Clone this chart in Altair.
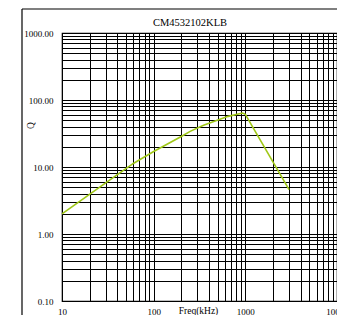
import altair as alt
import pandas as pd

# data
freq_khz = [10, 30, 60, 100, 200, 250, 350, 650, 930, 1000, 3000]
q_values = [2.0, 5.8, 11.3, 17.0, 28.5, 34.0, 42.0, 57.0, 64.0, 61.0, 4.6]

x_decades = [10, 100, 1000, 10000]
y_decades = [0.1, 1, 10, 100, 1000]
x_ticks = [m * d for d in [10, 100, 1000] for m in range(1, 10)] + [10000]
y_ticks = [round(m * d, 4) for d in [0.1, 1, 10, 100] for m in range(1, 10)] + [1000]

title_text = "CM4532102KLB"
x_title = "Freq(kHz)"
y_title = "Q"

df = pd.DataFrame({"f": freq_khz, "q": q_values})

FONT = "Liberation Serif"
W, H = 275, 268

line = alt.Chart(df).mark_line(color="#a0c818", strokeWidth=1.6).encode(
    x=alt.X(
        "f:Q",
        scale=alt.Scale(type="log", domain=[10, 10000], nice=False),
        axis=alt.Axis(
            values=x_ticks,
            labelExpr="indexof(%s, datum.value) >= 0 ? format(datum.value, 'd') : ''" % x_decades,
            title=x_title,
            titleX=136,
            titleY=9,
            titleBaseline="middle",
            titleFontSize=9.5,
            titleFontWeight="normal",
            titleFont=FONT,
            labelFont=FONT,
            labelFontSize=9,
            labelPadding=6,
            labelFlush=False,
            labelOverlap=False,
            ticks=False,
            domain=False,
            grid=True,
            gridColor="#000000",
            gridOpacity=1,
            gridWidth=1,
        ),
    ),
    y=alt.Y(
        "q:Q",
        scale=alt.Scale(type="log", domain=[0.1, 1000], nice=False),
        axis=alt.Axis(
            values=y_ticks,
            labelExpr="indexof(%s, datum.value) >= 0 ? format(datum.value, '.2f') : ''" % y_decades,
            title=y_title,
            titleX=-32,
            titleY=92,
            titleAngle=-90,
            titleBaseline="middle",
            titleFontSize=9.5,
            titleFontWeight="normal",
            titleFont=FONT,
            labelFont=FONT,
            labelFontSize=9,
            labelPadding=9,
            labelFlush=False,
            labelOverlap=False,
            ticks=False,
            domain=False,
            grid=True,
            gridColor="#000000",
            gridOpacity=1,
            gridWidth=1,
        ),
    ),
)

one = pd.DataFrame({"a": [0]})

frame_left = alt.Chart(one).mark_rule(color="#000000", strokeWidth=1.2, clip=False).encode(
    x=alt.value(-40), y=alt.value(-24), y2=alt.value(H + 20)
)
frame_top = alt.Chart(one).mark_rule(color="#000000", strokeWidth=1.2, clip=False).encode(
    x=alt.value(-40), x2=alt.value(W), y=alt.value(-24)
)
title = alt.Chart(pd.DataFrame({"t": [title_text]})).mark_text(
    font=FONT, fontSize=10.5, color="#000000", align="center", baseline="middle", clip=False
).encode(text="t:N", x=alt.value(128), y=alt.value(-10))

chart = (
    alt.layer(frame_left, frame_top, line, title)
    .properties(
        width=W,
        height=H,
        padding={"left": 54, "top": 25, "right": 0, "bottom": 14},
        autosize=alt.AutoSizeParams(type="none"),
        background="white",
    )
    .configure_view(stroke="#000000", strokeWidth=1.2)
)

chart.save("out.html", embed_options={"renderer": "svg", "actions": False})
